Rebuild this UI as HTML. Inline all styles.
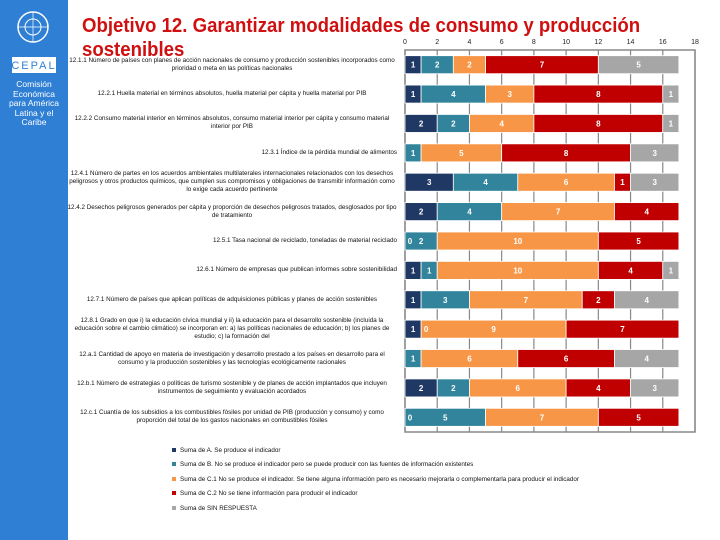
<!DOCTYPE html>
<html><head><meta charset="utf-8"><style>
body{margin:0;width:720px;height:540px;overflow:hidden;background:#fff;font-family:"Liberation Sans",sans-serif;position:relative}
.strip{position:absolute;left:0;top:0;width:68px;height:540px;background:#2f7fd4}
.title{position:absolute;left:82px;top:14px;font-size:20px;font-weight:bold;color:#d01010;line-height:24px;white-space:nowrap;transform-origin:0 0;transform:scaleX(0.93)}
.lbl{position:absolute;right:323px;width:330px;font-size:6.3px;line-height:8px;color:#111;transform:translateY(-50%)}
.leg{position:absolute;left:172px;font-size:6.3px;color:#111}
.leg i{display:inline-block;width:4px;height:4px;margin-right:4px;vertical-align:middle}
</style></head><body>
<div class="strip">
<svg width="68" height="140" style="position:absolute;left:0;top:0">
<circle cx="33" cy="27" r="15" fill="none" stroke="#fff" stroke-width="1.5"/>
<circle cx="33" cy="27" r="8" fill="none" stroke="#fff" stroke-width="1"/>
<line x1="18" y1="27" x2="48" y2="27" stroke="#fff" stroke-width="0.7"/>
<line x1="33" y1="12" x2="33" y2="42" stroke="#fff" stroke-width="0.7"/>
<rect x="12" y="57" width="44" height="16" fill="#fff"/>
<text x="34" y="69" font-size="11" fill="#2f7fd4" text-anchor="middle" font-family="Liberation Sans" letter-spacing="2">CEPAL</text>
</svg>
<div style="position:absolute;top:80px;left:0;width:68px;text-align:center;color:#fff;font-size:8.5px;line-height:9.5px">Comisión<br>Económica<br>para América<br>Latina y el<br>Caribe</div>
</div>
<div class="title">Objetivo 12. Garantizar modalidades de consumo y producción<br>sostenibles</div>
<svg id="chart" width="720" height="540" style="position:absolute;left:0;top:0"></svg>
<div id="labels"></div>
<div class="leg" style="top:447px"><i style="background:#1f3864"></i>Suma de A. Se produce el indicador</div>
<div class="leg" style="top:461px"><i style="background:#31849b"></i>Suma de B. No se produce el indicador pero se puede producir con las fuentes de información existentes</div>
<div class="leg" style="top:476px"><i style="background:#f79646"></i>Suma de C.1 No se produce el indicador. Se tiene alguna información pero es necesario mejorarla o complementarla para producir el indicador</div>
<div class="leg" style="top:490px"><i style="background:#c00000"></i>Suma de C.2 No se tiene información para producir el indicador</div>
<div class="leg" style="top:505px"><i style="background:#a6a6a6"></i>Suma de SIN RESPUESTA</div>
<script>
const categories=["12.1.1 Número de países con planes de acción nacionales de consumo y producción sostenibles incorporados como prioridad o meta en las políticas nacionales","12.2.1 Huella material en términos absolutos, huella material per cápita y huella material por PIB","12.2.2 Consumo material interior en términos absolutos, consumo material interior per cápita y consumo material interior por PIB","12.3.1 Índice de la pérdida mundial de alimentos","12.4.1 Número de partes en los acuerdos ambientales multilaterales internacionales relacionados con los desechos peligrosos y otros productos químicos, que cumplen sus compromisos y obligaciones de transmitir información como lo exige cada acuerdo pertinente","12.4.2 Desechos peligrosos generados per cápita y proporción de desechos peligrosos tratados, desglosados por tipo de tratamiento","12.5.1 Tasa nacional de reciclado, toneladas de material reciclado","12.6.1 Número de empresas que publican informes sobre sostenibilidad","12.7.1 Número de países que aplican políticas de adquisiciones públicas y planes de acción sostenibles","12.8.1 Grado en que i) la educación cívica mundial y ii) la educación para el desarrollo sostenible (incluida la educación sobre el cambio climático) se incorporan en: a) las políticas nacionales de educación; b) los planes de estudio; c) la formación del","12.a.1 Cantidad de apoyo en materia de investigación y desarrollo prestado a los países en desarrollo para el consumo y la producción sostenibles y las tecnologías ecológicamente racionales","12.b.1 Número de estrategias o políticas de turismo sostenible y de planes de acción implantados que incluyen instrumentos de seguimiento y evaluación acordados","12.c.1 Cuantía de los subsidios a los combustibles fósiles por unidad de PIB (producción y consumo) y como proporción del total de los gastos nacionales en combustibles fósiles"];
const seriesA=[1,1,2,0,3,2,0,1,1,1,0,2,0];
const seriesB=[2,4,2,1,4,4,2,1,3,0,1,2,5];
const seriesC1=[2,3,4,5,6,7,10,10,7,9,6,6,7];
const seriesC2=[7,8,8,8,1,4,5,4,2,7,6,4,5];
const seriesSR=[5,1,1,3,3,0,0,1,4,0,4,3,0];
const ticks=[0,2,4,6,8,10,12,14,16,18];
const series=[["a",seriesA,"#1f3864"],["b",seriesB,"#31849b"],["c1",seriesC1,"#f79646"],["c2",seriesC2,"#c00000"],["sin-respuesta",seriesSR,"#a6a6a6"]];
const X0=405,X1=695,XMAX=18,TOP=50,BOT=432;
const x=v=>X0+(X1-X0)*v/XMAX;
const band=(BOT-TOP)/categories.length;
const yc=i=>TOP+band*(i+0.5);
const svg=document.getElementById('chart');const NS="http://www.w3.org/2000/svg";
function el(t,a){const e=document.createElementNS(NS,t);for(const k in a)e.setAttribute(k,a[k]);svg.appendChild(e);return e;}
const frame=el('rect',{x:X0,y:TOP,width:X1-X0,height:BOT-TOP,fill:'none',stroke:'#888','stroke-width':1.5});


ticks.forEach(t=>{
 const g=el('line',{x1:x(t),x2:x(t),y1:TOP,y2:BOT,stroke:'#888','stroke-width':1.2});
 
 
 const tx=el('text',{x:x(t),y:44,'font-size':7,'text-anchor':'middle',fill:'#222','font-family':'Liberation Sans'});
 tx.textContent=t;
 
 
});
const labelsToDraw=[];
categories.forEach((c,i)=>{
 let acc=0;
 series.forEach(([nm,vals,col],si)=>{
  const v=vals[i];
  if(v>0){
   const r=el('rect',{x:x(acc),y:yc(i)-9,width:x(acc+v)-x(acc),height:18,fill:col,stroke:'#fff','stroke-width':0.8});
   
   
   labelsToDraw.push([x(acc)+(x(acc+v)-x(acc))/2,yc(i)+3,v]);
  } else if(si<2 && series[si+1][1][i]>=2){
   labelsToDraw.push([x(acc)+5,yc(i)+3,v]);
  }
  acc+=v;
 });
 const d=document.createElement('div');d.className='lbl';d.style.top=yc(i)+'px';
 d.style.textAlign=c.length>95?'center':'right';
 d.textContent=c;
 
 
 document.getElementById('labels').appendChild(d);
});
labelsToDraw.forEach(([lx,ly,v])=>{
 const t=el('text',{x:lx,y:ly,'font-size':8,'font-weight':'bold','text-anchor':'middle',fill:'#fff','font-family':'Liberation Sans'});
 t.textContent=v;
 
 
});
</script>
</body></html>
